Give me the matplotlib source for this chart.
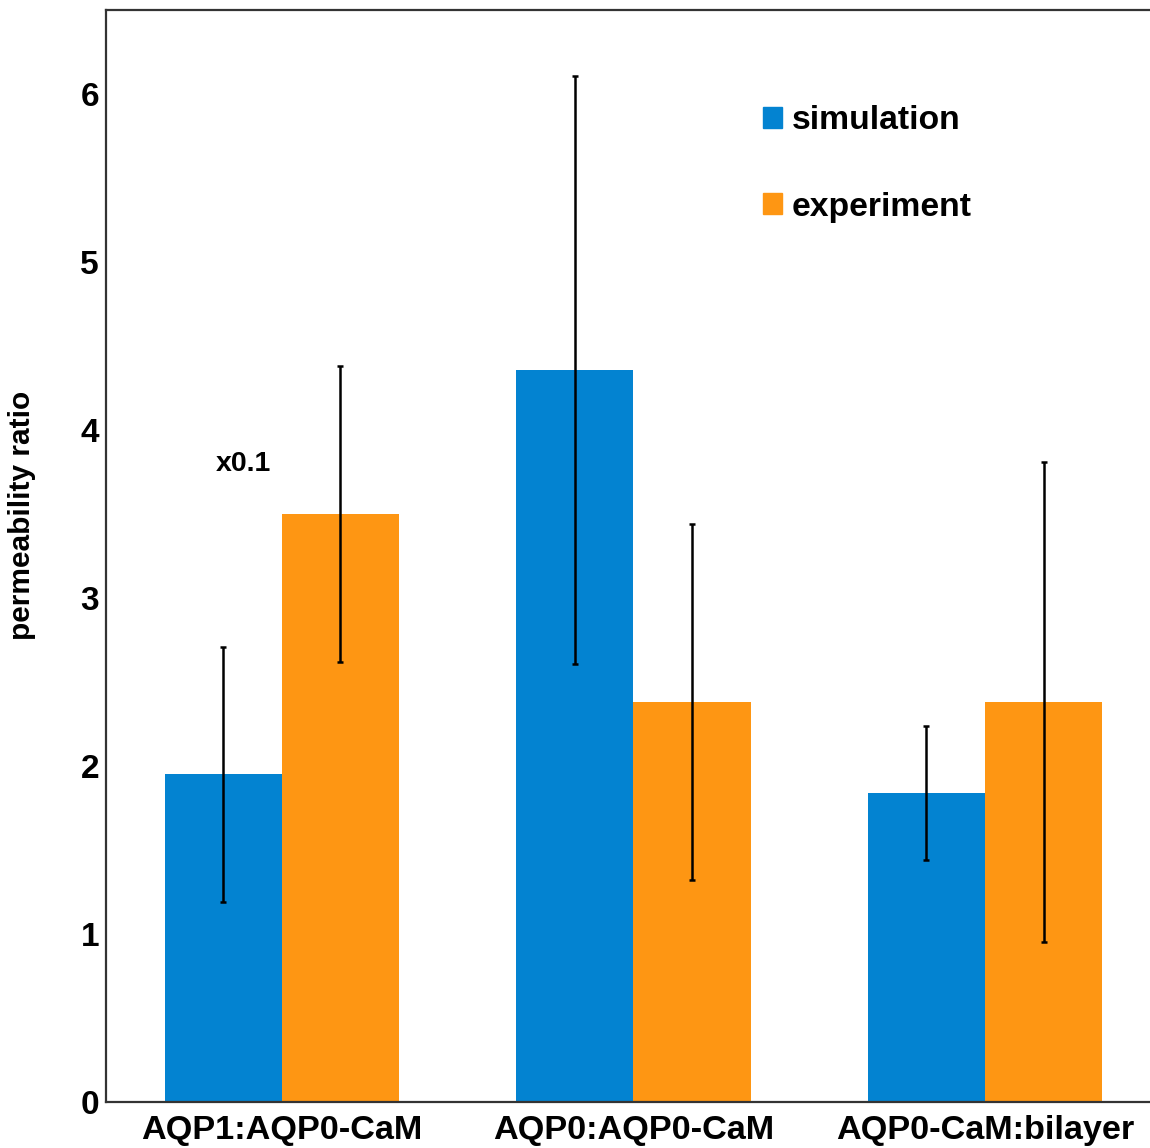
import numpy as np
import matplotlib.pyplot as plt
from matplotlib.patches import Patch

plt.rcParams['font.family'] = ['Liberation Sans', 'DejaVu Sans']
plt.rcParams['font.weight'] = 'bold'

groups = ["AQP1:AQP0-CaM", "AQP0:AQP0-CaM", "AQP0-CaM:bilayer"]
sim = [1.95, 4.36, 1.84]
sim_err = [0.76, 1.75, 0.40]
exp = [3.50, 2.38, 2.38]
exp_err = [0.88, 1.06, 1.43]

blue = '#0383d1'
orange = '#fe9613'

W, H = 1150, 1148
fig = plt.figure(figsize=(W / 100, H / 100), dpi=100)
ax = fig.add_axes([106 / W, (H - 1102) / H, (1160 - 106) / W, (1102 - 10) / H])

x = np.arange(len(groups))
w = 1 / 3.
ax.bar(x - w / 2, sim, w, color=blue)
ax.bar(x + w / 2, exp, w, color=orange)
ax.errorbar(x - w / 2, sim, yerr=sim_err, fmt='none', ecolor='black',
            elinewidth=1.8, capsize=2.2, capthick=1.8)
ax.errorbar(x + w / 2, exp, yerr=exp_err, fmt='none', ecolor='black',
            elinewidth=1.8, capsize=2.2, capthick=1.8)

ax.text(-0.11, 3.80, "x0.1", fontsize=20.5, fontweight='bold', ha='center', va='center')

ax.set_xlim(-0.5, 2.498)
ax.set_ylim(0, 6.5)
ax.set_xticks(x)
ax.set_xticklabels(groups, fontsize=24.7, fontweight='bold')
ax.set_yticks(range(7))
ax.set_yticklabels([str(i) for i in range(7)], fontsize=24, fontweight='bold')
ax.tick_params(axis='both', length=0)
ax.tick_params(axis='x', pad=9)
ax.tick_params(axis='y', pad=5)
ax.set_ylabel("permeability ratio", fontsize=21.5, fontweight='bold')
ax.yaxis.set_label_coords(-0.066, 0.5375)

for s in ax.spines.values():
    s.set_color('#333333')
    s.set_linewidth(1.6)

handles = [Patch(color=blue, label='simulation'), Patch(color=orange, label='experiment')]
ax.legend(handles=handles, loc='upper left', bbox_to_anchor=(0.623, 0.913), frameon=False,
          handlelength=0.58, handleheight=0.58, handletextpad=0.28,
          labelspacing=1.65, borderpad=0, borderaxespad=0,
          prop={'weight': 'bold', 'size': 24.3})

fig.savefig('out.png', dpi=100)
